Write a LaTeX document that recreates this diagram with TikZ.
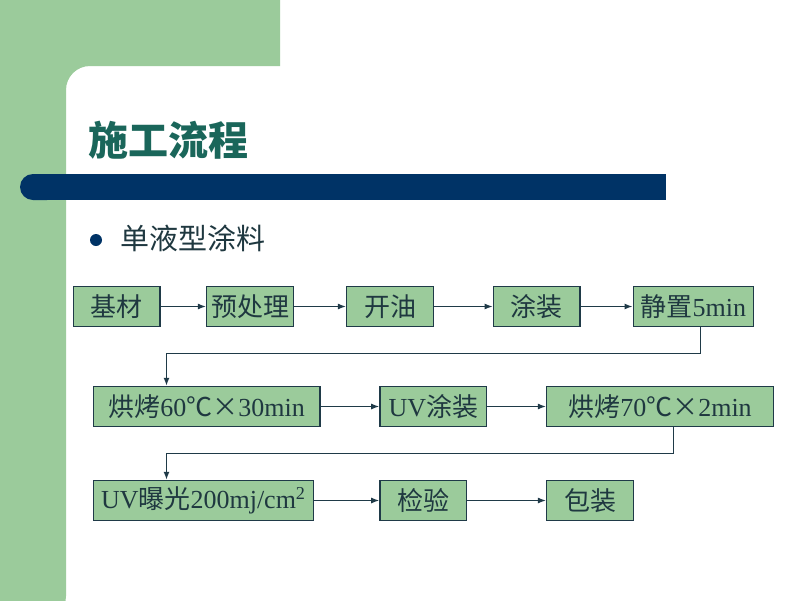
\documentclass[tikz,border=0pt]{standalone}
\usepackage{fontspec}
\setmainfont{Liberation Serif}
\newfontfamily\cjk{Noto Sans CJK SC}
\usetikzlibrary{arrows.meta,calc}
\definecolor{bg_green}{RGB}{155,203,155}
\definecolor{box_green}{RGB}{155,203,155}
\definecolor{bar_navy}{RGB}{0,51,102}
\definecolor{title_teal}{RGB}{26,102,90}
\definecolor{box_line}{RGB}{31,58,72}
\definecolor{txt_dark}{RGB}{31,56,64}
\tikzstyle{stepbox}=[rectangle,fill=box_green,draw=box_line,line width=1.5pt,
  minimum height=40pt,inner sep=0pt,text=txt_dark,font=\fontsize{26}{30}\selectfont]
\tikzstyle{arr}=[-{Latex[length=8pt,width=6pt]},draw=box_line,line width=1.2pt]
\begin{document}
\begin{tikzpicture}[x=1pt,y=-1pt]
        \useasboundingbox (0,0) rectangle (800,600);
        % background
        \fill[bg_green] (0,-10) -- (280,-10) -- (280,66) {[rounded corners=24] -- (66,66) -- (66,620)} -- (-10,620) -- cycle;
        \fill[bar_navy,rounded corners=13] (20,174) rectangle (60,200);
        \fill[bar_navy] (40,174) rectangle (666,200);
        \node[anchor=west,text=title_teal,font=\cjk\bfseries\fontsize{40}{48}\selectfont,inner sep=0pt] (title) at (88,140) {施工流程};
        \fill[bar_navy] (96,240) circle (6);
        \node[anchor=west,text=txt_dark,font=\cjk\fontsize{29}{34}\selectfont,inner sep=0pt] (sub) at (120,238) {单液型涂料};
        % row 1
        \node[stepbox,minimum width=86.7] (jc) at (116.7,306.5) {\cjk 基材};
        \node[stepbox,minimum width=86.7] (ycl) at (250,306.5) {\cjk 预处理};
        \node[stepbox,minimum width=86.7] (ky) at (390,306.5) {\cjk 开油};
        \node[stepbox,minimum width=86.7] (tz) at (536.7,306.5) {\cjk 涂装};
        \node[stepbox,minimum width=120] (jz) at (693.3,306.5) {{\cjk 静置}5min};
        % row 2
        \node[stepbox,minimum width=226.7] (hk1) at (206.7,406.5) {{\cjk 烘烤}60{\cjk ℃×}30min};
        \node[stepbox,minimum width=106.7] (uvtz) at (433.3,406.5) {UV{\cjk 涂装}};
        \node[stepbox,minimum width=226.7] (hk2) at (660,406.5) {{\cjk 烘烤}70{\cjk ℃×}2min};
        % row 3
        \node[stepbox,minimum width=220] (uvbg) at (203.3,500.5) {UV{\cjk 曝光}200mj/cm\textsuperscript{2}};
        \node[stepbox,minimum width=86.7] (jy) at (423.3,500.5) {\cjk 检验};
        \node[stepbox,minimum width=86.7] (bz) at (590,500.5) {\cjk 包装};
        % bends
        \coordinate (b1) at (700.5,353.5);
        \coordinate (b2) at (166.5,353.5);
        \coordinate (b3) at (673.5,453.5);
        \coordinate (b4) at (166.5,453.5);
        \draw[arr] (jc) to (ycl);
        \draw[arr] (ycl) to (ky);
        \draw[arr] (ky) to (tz);
        \draw[arr] (tz) to (jz);
        \draw[arr] (b1 |- jz.south) -- (b1) -- (b2) -- (b2 |- hk1.north);
        \draw[arr] (hk1) to (uvtz);
        \draw[arr] (uvtz) to (hk2);
        \draw[arr] (b3 |- hk2.south) -- (b3) -- (b4) -- (b4 |- uvbg.north);
        \draw[arr] (uvbg) to (jy);
        \draw[arr] (jy) to (bz);
    \end{tikzpicture}
\end{document}
